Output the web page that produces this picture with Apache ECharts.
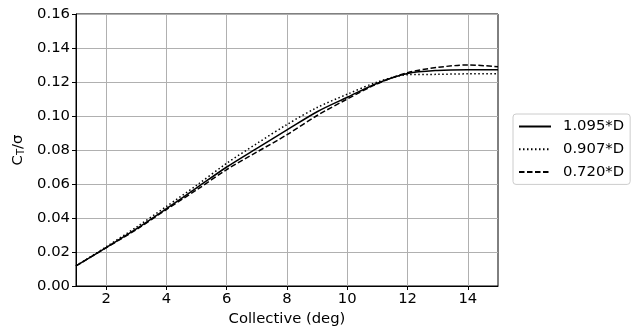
<!DOCTYPE html>
<html>
<head>
<meta charset="utf-8">
<script src="https://cdn.jsdelivr.net/npm/echarts@6/dist/echarts.min.js"></script>
<style>
  html, body { margin: 0; padding: 0; background: #fff; }
  #chart { width: 631px; height: 332px; }
</style>
</head>
<body>
<div id="chart"></div>
<script>
// collective angle (deg)
var collective = [1, 2, 3, 4, 5, 6, 7, 8, 9, 10, 11, 12, 13, 14, 15];
// CT/sigma for each rotor diameter
var ct1095 = [0.0118, 0.0226, 0.0336, 0.0455, 0.0577, 0.0700, 0.0810, 0.0918, 0.1025, 0.1110, 0.1193, 0.1250, 0.1268, 0.1272, 0.1272];
var ct0907 = [0.0118, 0.0230, 0.0346, 0.0468, 0.0592, 0.0722, 0.0838, 0.0950, 0.1050, 0.1128, 0.1200, 0.1243, 0.1245, 0.1248, 0.1248];
var ct0720 = [0.0118, 0.0225, 0.0332, 0.0450, 0.0565, 0.0685, 0.0788, 0.0890, 0.1003, 0.1100, 0.1190, 0.1255, 0.1286, 0.1300, 0.1290];
var seriesNames = ["1.095*D", "0.907*D", "0.720*D"];
var xTicks = [2, 4, 6, 8, 10, 12, 14];

function pairs(ys) {
  return collective.map(function (x, i) { return [x, ys[i]]; });
}

var font = "DejaVu Sans";
var fs = 14.8;
var myChart = echarts.init(document.getElementById("chart"));

var option = {
  backgroundColor: "#fff",
  animation: false,
  textStyle: { fontFamily: font },
  grid: {
    left: 76, right: 133, top: 14, bottom: 45,
    show: true, borderColor: "#000", borderWidth: 1,
  },
  legend: {
    orient: "vertical",
    left: 513,
    top: 114,
    data: seriesNames,
    itemWidth: 32,
    itemHeight: 14,
    itemGap: 7.7,
    padding: [5, 6, 5, 5],
    borderColor: "#cccccc",
    borderWidth: 1,
    borderRadius: 3,
    backgroundColor: "#fff",
    itemStyle: { opacity: 0 },
    textStyle: { fontFamily: font, fontSize: fs, color: "#000", padding: [0, 0, 0, 7] },
  },
  xAxis: {
    type: "value",
    min: 1,
    max: 15,
    name: "Collective (deg)",
    nameLocation: "middle",
    nameGap: 26,
    nameTextStyle: { fontFamily: font, fontSize: fs, color: "#000" },
    axisLine: { show: true, lineStyle: { color: "#000", width: 1 } },
    axisTick: { show: true, customValues: xTicks, length: 4, lineStyle: { color: "#000" } },
    axisLabel: { customValues: xTicks, fontFamily: font, fontSize: fs, color: "#000", margin: 6 },
    splitLine: { show: true, lineStyle: { color: "#b0b0b0", width: 1 } },
  },
  yAxis: {
    type: "value",
    min: 0,
    max: 0.16,
    interval: 0.02,
    name: "{c|C}{t|T}{c|/σ}",
    nameLocation: "middle",
    nameRotate: 90,
    nameGap: 49,
    nameTextStyle: {
      rich: {
        c: { fontFamily: font, fontSize: fs, color: "#000" },
        t: { fontFamily: font, fontSize: 10, color: "#000", verticalAlign: "bottom", padding: [6, 0, 0, 0] },
      },
    },
    axisLine: { show: true, lineStyle: { color: "#000", width: 1 } },
    axisTick: { show: true, length: 4, lineStyle: { color: "#000" } },
    axisLabel: {
      fontFamily: font, fontSize: fs, color: "#000", margin: 6,
      formatter: function (v) { return v.toFixed(2); },
    },
    splitLine: { show: true, lineStyle: { color: "#b0b0b0", width: 1 } },
  },
  series: [
    {
      name: seriesNames[0], type: "line", data: pairs(ct1095),
      symbol: "none", smooth: 0.3,
      lineStyle: { color: "#000", width: 1.5, type: "solid" },
      itemStyle: { color: "#000" },
    },
    {
      name: seriesNames[1], type: "line", data: pairs(ct0907),
      symbol: "none", smooth: 0.3,
      lineStyle: { color: "#000", width: 1.5, type: [1.5, 2.5] },
      itemStyle: { color: "#000" },
    },
    {
      name: seriesNames[2], type: "line", data: pairs(ct0720),
      symbol: "none", smooth: 0.3,
      lineStyle: { color: "#000", width: 1.5, type: [5.5, 2.5] },
      itemStyle: { color: "#000" },
    },
  ],
};

myChart.setOption(option);
window.onresize = function () {
  myChart.resize();
};
</script>
</body>
</html>
